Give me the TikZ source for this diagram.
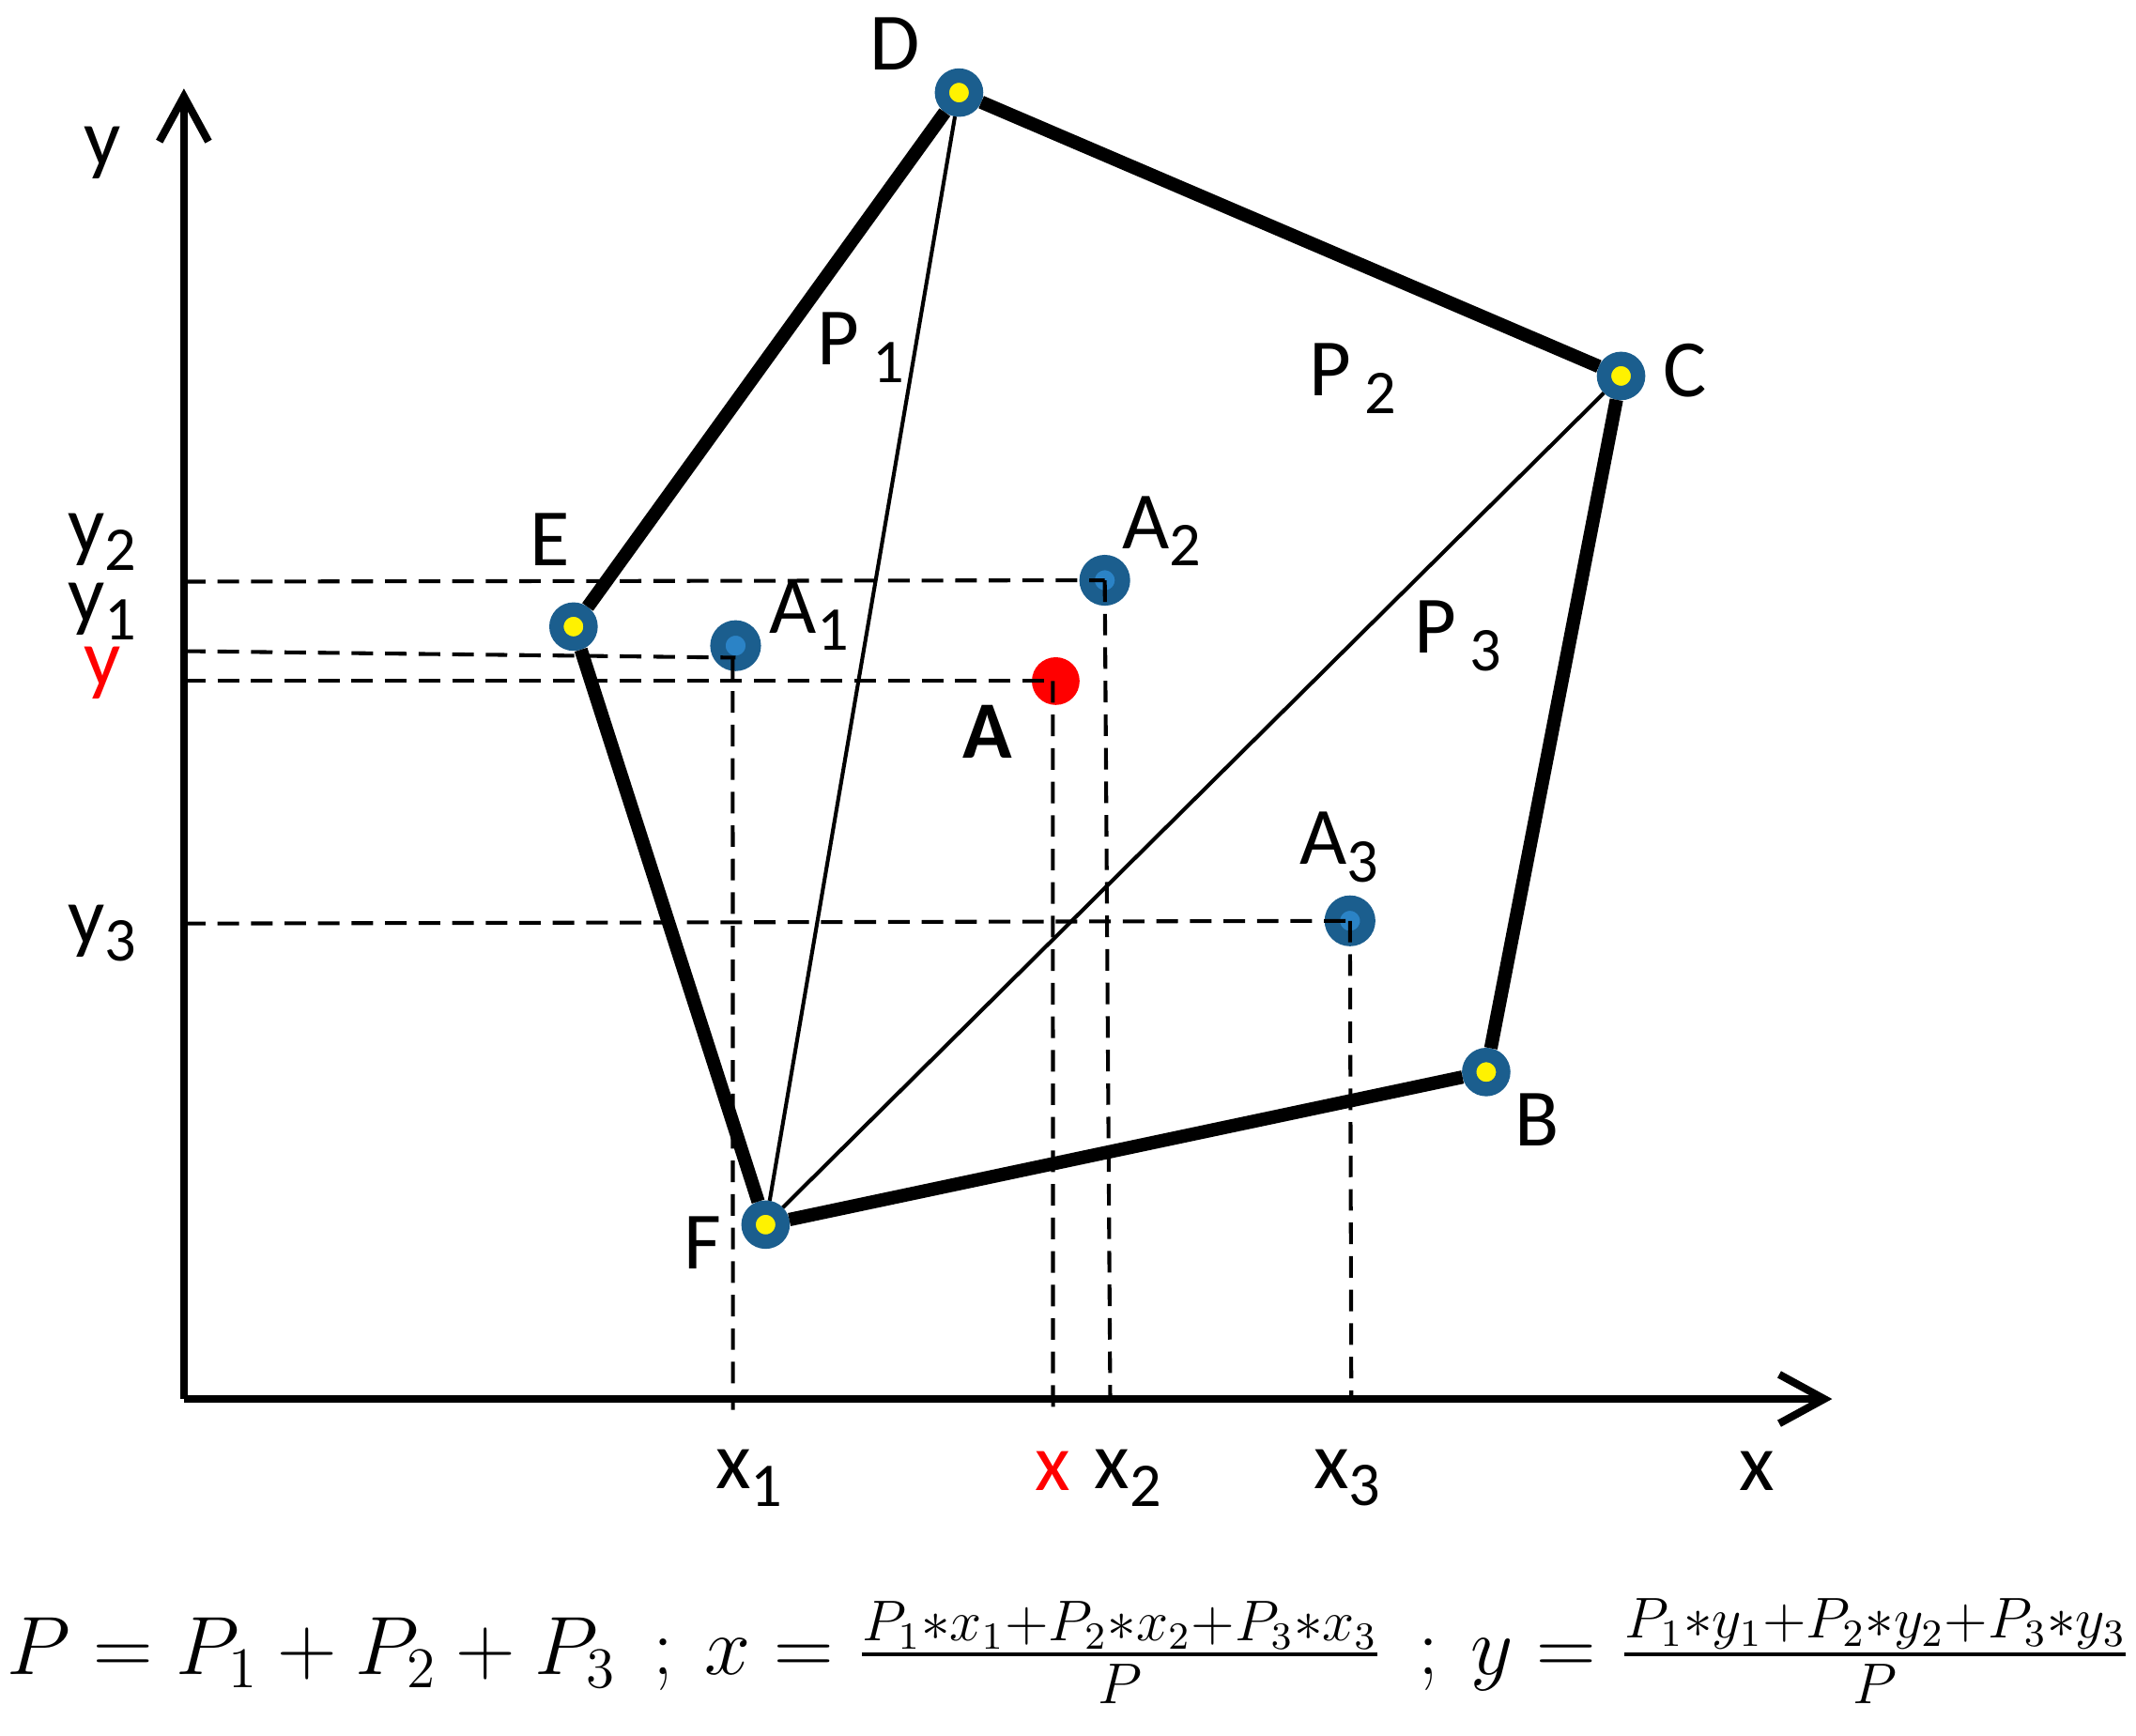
\documentclass[tikz,border=0pt]{standalone}
\usepackage{amsmath}
\usepackage{fontspec}
\setmainfont{Carlito}
\usepackage{tikz}
\usetikzlibrary{arrows.meta}

\definecolor{ringblue}{HTML}{1B5E8E}
\definecolor{coreblue}{HTML}{2B83C6}
\newcommand{\lowsub}[1]{\raisebox{-0.45ex}{\fontsize{13}{13}\selectfont #1}}

\begin{document}
\begin{tikzpicture}[
        x=0.01cm, y=-0.01cm,
        % markers
        vertex/.style={circle, draw=ringblue, fill=yellow, line width=3pt, minimum size=0.25cm, inner sep=0pt},
        centroid/.style={circle, draw=ringblue, fill=coreblue, line width=3.2pt, minimum size=0.26cm, inner sep=0pt},
        target/.style={circle, fill=red, minimum size=0.35cm, inner sep=0pt},
        % lines
        edge/.style={line width=2.8pt},
        diag/.style={line width=0.8pt},
        guide/.style={dash pattern=on 4.5pt off 2.5pt, line width=0.8pt},
        axis/.style={line width=1.6pt, -{Straight Barb[length=0.33cm, width=0.36cm]}},
        lbl/.style={font=\fontsize{17}{20}\selectfont, inner sep=0pt},
    ]
    \useasboundingbox (0,0) rectangle (1568,1274);

    % axes
    \coordinate (O) at (135,1027);
    \coordinate (Xend) at (1345,1027);
    \coordinate (Yend) at (135,65);
    \draw[axis] (O) -- (Xend);
    \draw[axis] (O) -- (Yend);
    \node[lbl] (ylab) at (75,112) {y};
    \node[lbl] (xlab) at (1290,1080) {x};

    % polygon vertices
    \node[vertex] (D) at (704,68) {};
    \node[vertex] (C) at (1190,276) {};
    \node[vertex] (B) at (1091,787) {};
    \node[vertex] (F) at (562,899) {};
    \node[vertex] (E) at (421,460) {};

    % centroids of the parts and of the whole
    \node[centroid] (A1) at (540,474) {};
    \node[centroid] (A2) at (811,426) {};
    \node[centroid] (A3) at (991,676) {};
    \node[target] (A) at (775,500) {};

    % outline and cuts
    \draw[edge] (F) -- (E) -- (D) -- (C) -- (B) -- (F);
    \draw[diag] (D) -- (F);
    \draw[diag] (C) -- (F);

    % projections onto the axes
    \coordinate (ya2) at (135,427);
    \coordinate (ya1) at (135,478);
    \coordinate (ya) at (135,500);
    \coordinate (ya3) at (135,678);
    \coordinate (xa1) at (538,1035);
    \coordinate (xa) at (773,1033);
    \coordinate (xa2) at (815,1025);
    \coordinate (xa3) at (992,1025);
    \draw[guide] (ya2) -- (A2.center);
    \draw[guide] (ya1) -- ([yshift=-2.5pt]A1.center);
    \draw[guide] (ya) -- (A.center);
    \draw[guide] (ya3) -- (A3.center);
    \draw[guide] ([xshift=-0.6pt, yshift=-2.5pt]A1.center) -- (xa1);
    \draw[guide] ([xshift=-0.6pt]A.center) -- (xa);
    \draw[guide] (A2.center) -- (xa2);
    \draw[guide] (A3.center) -- (xa3);

    % vertex labels
    \node[lbl] (Dlab) at (657,32) {D};
    \node[lbl] (Clab) at (1237,272) {C};
    \node[lbl] (Blab) at (1128,822) {B};
    \node[lbl] (Flab) at (516,912) {F};
    \node[lbl] (Elab) at (404,396) {E};

    % part labels
    \node[lbl] (P1lab) at (632,255) {P\,\lowsub{1}};
    \node[lbl] (P2lab) at (993,278) {P\,\lowsub{2}};
    \node[lbl] (P3lab) at (1070,467) {P\,\lowsub{3}};
    \node[lbl] (A1lab) at (594,452) {A\lowsub{1}};
    \node[lbl] (A2lab) at (853,390) {A\lowsub{2}};
    \node[lbl] (A3lab) at (983,622) {A\lowsub{3}};
    \node[lbl, font=\fontsize{17}{20}\selectfont\bfseries] (Alab) at (725,537) {A};

    % axis values
    \node[lbl] (y2lab) at (75,398) {y\lowsub{2}};
    \node[lbl] (y1lab) at (75,449) {y\lowsub{1}};
    \node[lbl, text=red] (yvlab) at (75,494) {y};
    \node[lbl] (y3lab) at (75,685) {y\lowsub{3}};
    \node[lbl] (x1lab) at (550,1085) {x\lowsub{1}};
    \node[lbl, text=red] (xvlab) at (773,1080) {x};
    \node[lbl] (x2lab) at (828,1085) {x\lowsub{2}};
    \node[lbl] (x3lab) at (989,1085) {x\lowsub{3}};

    % formula
    \node[inner sep=0pt, font=\fontsize{16.4}{19}\selectfont] (formula) at (785,1212)
        {$P=P_1+P_2+P_3\ \ ;\ x=\frac{P_1{*}x_1+P_2{*}x_2+P_3{*}x_3}{P}\ \ ;\ y=\frac{P_1{*}y_1+P_2{*}y_2+P_3{*}y_3}{P}$};
\end{tikzpicture}
\end{document}
